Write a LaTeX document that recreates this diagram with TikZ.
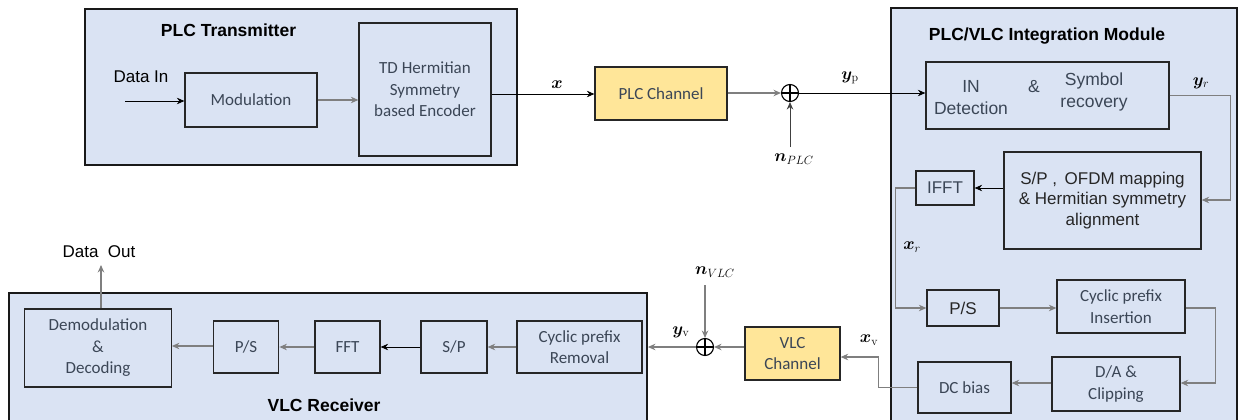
\documentclass[tikz,border=0pt]{standalone}
\usepackage{amsmath}
\usepackage{bm}
\usepackage[no-math]{fontspec}
\setmainfont{Carlito}
\newfontfamily\arialf{Liberation Sans}
\usetikzlibrary{arrows.meta,calc}
\definecolor{bgblue}{HTML}{DAE3F3}
\definecolor{chyel}{HTML}{FFE699}
\definecolor{txtc}{HTML}{3B4656}
\definecolor{lgray}{HTML}{7F7F7F}
\begin{document}
\begin{tikzpicture}[x=1pt,y=-1pt,
 outer/.style={draw=black!90, line width=1.8pt, fill=bgblue, inner sep=0pt},
 blk/.style={draw=black!85, line width=1.3pt, fill=bgblue, text=txtc, align=center, inner sep=2pt, font=\fontsize{17}{21.5}\selectfont},
 ablk/.style={blk, font=\arialf\fontsize{17}{21.5}\selectfont},
 chan/.style={blk, fill=chyel},
 ttl/.style={font=\arialf\bfseries\fontsize{17.5}{20}\selectfont, inner sep=0pt},
 atxt/.style={font=\arialf\fontsize{17.5}{21.5}\selectfont, text=txtc, align=center, inner sep=0pt},
 lbl/.style={font=\fontsize{18.5}{20}\selectfont, inner sep=0pt},
 arr/.style={-{Stealth[length=7.5pt,width=6.5pt,inset=2.5pt]}, line width=0.8pt, draw=black},
 garr/.style={arr, draw=lgray, line width=1.1pt},
 sumn/.style={circle, draw=black, line width=1.1pt, minimum size=17pt, inner sep=0pt,
   path picture={\draw[line width=1.1pt] (path picture bounding box.north) -- (path picture bounding box.south) (path picture bounding box.west) -- (path picture bounding box.east);}}
]
\useasboundingbox (0,0) rectangle (1239,420);
\clip (0,0) rectangle (1239,420);

% outer boxes
\node[outer, minimum width=432pt, minimum height=156pt] (tx) at (301,87) {};
\node[outer, minimum width=346pt, minimum height=422pt] (integ) at (1064,219) {};
\node[outer, minimum width=638pt, minimum height=137pt] (rx) at (328,361.5) {};

\node[ttl] (txt) at (228.5,30) {PLC Transmitter};
\node[ttl] (intt) at (1047,36) {PLC/VLC Integration Module};
\node[ttl] (rxt) at (324,405) {VLC Receiver};

% transmitter
\node[blk, minimum width=132pt, minimum height=54pt] (mod) at (251,100) {Modulation};
\node[blk, minimum width=132pt, minimum height=133pt] (enc) at (425,89.5) {TD Hermitian\\Symmetry\\based Encoder};
\node[chan, minimum width=132pt, minimum height=53pt] (plcch) at (661,93.5) {PLC Channel};
\node[sumn] (sum1) at (790,93) {};

% integration module
\node[blk, minimum width=243pt, minimum height=67pt] (indet) at (1047.5,95.5) {};
\node[atxt] (indt1) at (971,97.5) {IN\\Detection};
\node[atxt] (indt2) at (1034,87) {\&};
\node[atxt] (indt3) at (1094,92) {Symbol\\recovery};
\node[ablk, text=black!85, font=\arialf\fontsize{17}{20.7}\selectfont, minimum width=197pt, minimum height=97pt] (spo) at (1102.5,200.5) {S/P ,\, OFDM mapping\\\& Hermitian symmetry\\alignment};
\node[ablk, minimum width=58pt, minimum height=34pt] (ifft) at (945,188) {IFFT};
\node[ablk, text=black!85, minimum width=72pt, minimum height=36pt] (ps1) at (963,308) {P/S};
\node[blk, minimum width=128pt, minimum height=53pt] (cpi) at (1121,306.5) {Cyclic prefix\\Insertion};
\node[blk, minimum width=128pt, minimum height=54pt] (da) at (1116,384) {D/A \&\\Clipping};
\node[blk, minimum width=93pt, minimum height=51pt] (dc) at (964.5,387.5) {DC bias};

% VLC channel
\node[chan, minimum width=95pt, minimum height=53pt] (vlcch) at (792.5,353.5) {VLC\\Channel};
\node[sumn] (sum2) at (705,347) {};

% receiver
\node[blk, minimum width=125pt, minimum height=52pt] (cpr) at (579.5,347) {Cyclic prefix\\Removal};
\node[blk, minimum width=66pt, minimum height=52pt] (sp2) at (454,347) {S/P};
\node[blk, minimum width=65pt, minimum height=52pt] (fft) at (347.5,347) {FFT};
\node[blk, minimum width=65.5pt, minimum height=52pt] (ps2) at (246,347) {P/S};
\node[blk, minimum width=146.5pt, minimum height=78pt] (demod) at (98,348) {Demodulation\\\&\\Decoding};

% free ends
\coordinate (din) at (125,101);
\coordinate (npl) at (790,147);
\coordinate (nvl) at (705,285);
\coordinate (dout) at (101,265);

% labels
\node[atxt, text=black, font=\arialf\fontsize{17}{20}\selectfont] (dinl) at (141,77) {Data In};
\node[atxt, text=black, font=\arialf\fontsize{17}{20}\selectfont] (doutl) at (99,252) {Data\ \ Out};
\node[lbl] (lx) at (557,85) {$\bm{x}$};
\node[lbl] (lyp) at (850,78) {$\bm{y}_{\mathrm{p}}$};
\node[lbl] (lnp) at (794,159) {$\bm{n}_{PLC}$};
\node[lbl] (lyr) at (1201,83) {$\bm{y}_{r}$};
\node[lbl] (lxr) at (912,247) {$\bm{x}_{r}$};
\node[lbl] (lxv) at (869,340) {$\bm{x}_{\mathrm{v}}$};
\node[lbl] (lnv) at (715,272) {$\bm{n}_{VLC}$};
\node[lbl] (lyv) at (681,332) {$\bm{y}_{\mathrm{v}}$};

% connectors
\draw[arr] (din) -- (mod.west |- din);
\draw[garr] (mod.east) -- (mod.east -| enc.west);
\draw[arr] (enc.east |- 0,94) -- (plcch.west |- 0,94);
\draw[garr] (plcch.east |- sum1) -- (sum1.west);
\draw[arr, draw=black!75] (npl) -- (sum1.south);
\draw[arr] (sum1.east) -- (sum1.east -| indet.west);
\draw[garr] (indet.east) -- ++(61,0) |- (spo.east |- 0,200);
\draw[arr] (spo.west |- ifft) -- (ifft.east);
\draw[garr] (ifft.west) -- ++(-20,0) |- (ps1.west);
\draw[garr] (ps1.east) -- (ps1.east -| cpi.west);
\draw[garr] (cpi.east |- ps1) -- ++(30,0) |- (da.east |- 0,383);
\draw[garr] (da.west |- 0,383) -- (dc.east |- 0,383);
\draw[garr] (dc.west) -- ++(-39,0) |- (vlcch.east |- 0,357);
\draw[garr] (vlcch.west |- sum2) -- (sum2.east);
\draw[garr] (nvl) -- (sum2.north);
\draw[garr] (sum2.west) -- (sum2 -| rx.east);
\draw[garr] (cpr.west) -- (sp2.east);
\draw[arr] (sp2.west) -- (fft.east);
\draw[garr] (fft.west) -- (ps2.east);
\draw[garr] (ps2.west |- 0,346) -- (demod.east |- 0,346);
\draw[garr] (demod.north -| dout) -- (dout);
\end{tikzpicture}
\end{document}
